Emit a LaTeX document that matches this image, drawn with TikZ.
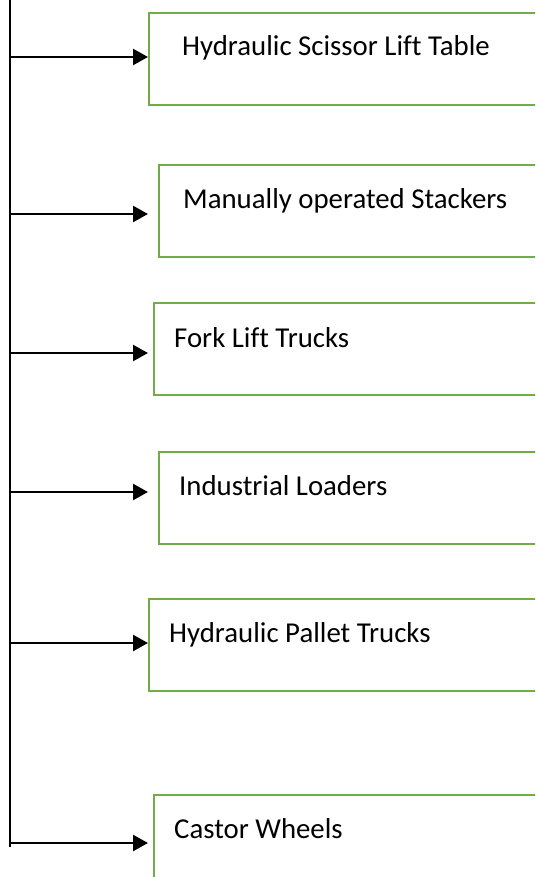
\documentclass[tikz,border=0pt]{standalone}
\usepackage{fontspec}
\setmainfont[Ligatures={NoCommon,NoRequired,NoContextual}]{Carlito}
\usetikzlibrary{arrows.meta}
\definecolor{boxgreen}{HTML}{70AD47}
\tikzset{
  x=1pt, y=-1pt,
  itembox/.style={draw=boxgreen, line width=2.2pt, minimum width=420pt,
    minimum height=92pt, anchor=north west, inner sep=0pt},
  itemtext/.style={anchor=base west, inner sep=0pt, font=\fontsize{28.8}{32}\selectfont},
  feed/.style={line width=2.4pt, -{Triangle[length=15pt,width=16pt]}},
  spine/.style={line width=1.3pt}
}
\begin{document}
\begin{tikzpicture}
\useasboundingbox (0,0) rectangle (535,877);
\clip (0,0) rectangle (535,877);

% category boxes (they run past the right edge)
\node[itembox] (b1) at (148,12)  {};
\node[itembox] (b2) at (158,164) {};
\node[itembox] (b3) at (153,302) {};
\node[itembox] (b4) at (158,451) {};
\node[itembox] (b5) at (148,598) {};
\node[itembox] (b6) at (153,794) {};

% labels
\node[itemtext] (l1) at (182,56)  {Hydraulic Scissor Lif{}t Table};
\node[itemtext] (l2) at (183,209) {Manually operated Stackers};
\node[itemtext] (l3) at (174,347) {Fork Lif{}t Trucks};
\node[itemtext] (l4) at (179,495) {Industrial Loaders};
\node[itemtext] (l5) at (169,642) {Hydraulic Pallet Trucks};
\node[itemtext] (l6) at (174,838) {Castor Wheels};

% spine
\coordinate (top) at (10,0);
\coordinate (bot) at (10,847);
\draw[spine] (top) -- (bot);

% branch points and arrow tips
\coordinate (s1) at (10,57);  \coordinate (t1) at (148,57);
\coordinate (s2) at (10,214); \coordinate (t2) at (148,214);
\coordinate (s3) at (10,353); \coordinate (t3) at (148,353);
\coordinate (s4) at (10,492); \coordinate (t4) at (148,492);
\coordinate (s5) at (10,643); \coordinate (t5) at (148,643);
\coordinate (s6) at (10,843); \coordinate (t6) at (148,843);

\foreach \i in {1,...,6}
  \draw[feed] (s\i) -- (t\i);
\end{tikzpicture}
\end{document}
